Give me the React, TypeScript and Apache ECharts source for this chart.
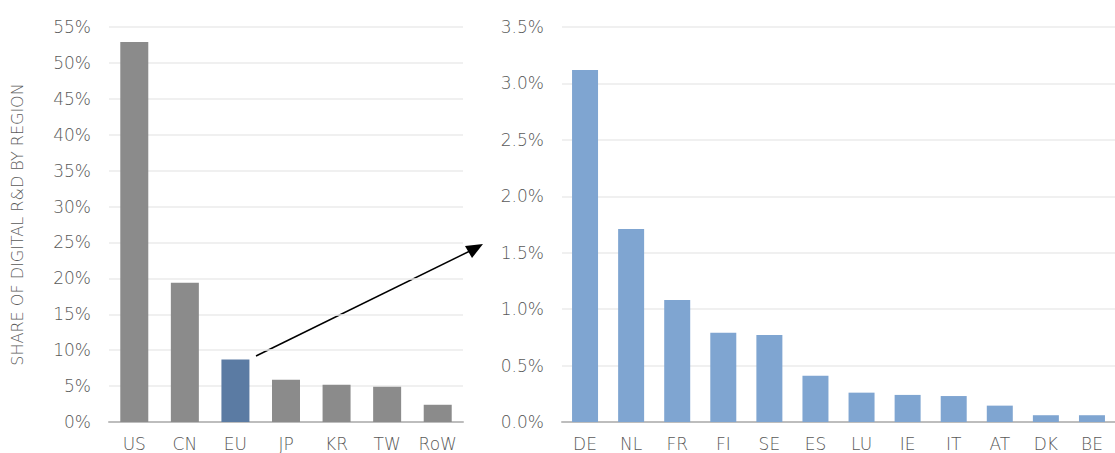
import React, { useEffect, useRef } from "react";
import * as echarts from "echarts";

// World regions: share of digital R&D
const regions = ["US", "CN", "EU", "JP", "KR", "TW", "RoW"];
const regionShare = [52.9, 19.4, 8.7, 5.9, 5.2, 4.9, 2.4];

// EU member states: share of digital R&D
const countries = ["DE", "NL", "FR", "FI", "SE", "ES", "LU", "IE", "IT", "AT", "DK", "BE"];
const countryShare = [3.12, 1.71, 1.08, 0.79, 0.77, 0.41, 0.26, 0.24, 0.23, 0.145, 0.06, 0.06];

const leftTicks = { min: 0, max: 55, interval: 5 };
const rightTicks = { min: 0, max: 3.5, interval: 0.5 };

const FONT = "DejaVu Sans";
const TEXT = "#595959";
const GREY_BAR = "#8b8b8b";
const EU_BAR = "#5b7ba3";
const EU_STATE_BAR = "#7fa5d1";

export default function App() {
  const ref = useRef<HTMLDivElement>(null);

  useEffect(() => {
    if (!ref.current) return;
    const chart = echarts.init(ref.current, undefined, { renderer: "svg" });

    const axisLabel = { color: TEXT, fontFamily: FONT, fontSize: 17, fontWeight: 300 };
    const splitLine = { show: true, lineStyle: { color: "#ebebeb", width: 1.5 } };
    const catAxisLine = { show: true, lineStyle: { color: "#bdbdbd", width: 2 } };

    chart.setOption({
      animation: false,
      grid: [
        { left: 109, top: 27, width: 354, bottom: 31 },
        { left: 562, top: 27, width: 562, bottom: 31 },
      ],
      xAxis: [
        {
          type: "category",
          gridIndex: 0,
          data: regions,
          axisLine: catAxisLine,
          axisTick: { show: false },
          axisLabel: { ...axisLabel, margin: 13 },
        },
        {
          type: "category",
          gridIndex: 1,
          data: countries,
          axisLine: catAxisLine,
          axisTick: { show: false },
          axisLabel: { ...axisLabel, margin: 13 },
        },
      ],
      yAxis: [
        {
          type: "value",
          gridIndex: 0,
          ...leftTicks,
          axisLine: { show: false },
          axisTick: { show: false },
          splitLine,
          axisLabel: { ...axisLabel, margin: 18, formatter: (v: number) => `${v}%` },
          name: "SHARE OF DIGITAL R&D BY REGION",
          nameLocation: "middle",
          nameGap: 84,
          nameTextStyle: { color: TEXT, fontFamily: FONT, fontSize: 16, fontWeight: 300 },
        },
        {
          type: "value",
          gridIndex: 1,
          ...rightTicks,
          axisLine: { show: false },
          axisTick: { show: false },
          splitLine,
          axisLabel: { ...axisLabel, margin: 18, formatter: (v: number) => `${v.toFixed(1)}%` },
        },
      ],
      series: [
        {
          type: "bar",
          xAxisIndex: 0,
          yAxisIndex: 0,
          barWidth: 28,
          data: regionShare.map((v, i) => ({
            value: v,
            itemStyle: { color: regions[i] === "EU" ? EU_BAR : GREY_BAR },
          })),
        },
        {
          type: "bar",
          xAxisIndex: 1,
          yAxisIndex: 1,
          barWidth: 26,
          itemStyle: { color: EU_STATE_BAR },
          data: countryShare,
        },
      ],
      graphic: [
        {
          type: "line",
          shape: { x1: 256, y1: 356, x2: 474, y2: 249 },
          style: { stroke: "#000", lineWidth: 1.5 },
        },
        {
          type: "polygon",
          shape: { points: [[483, 244], [465, 246], [472, 258]] },
          style: { fill: "#000" },
        },
      ],
    });

    return () => chart.dispose();
  }, []);

  return (
    <div
      ref={ref}
      style={{ position: "fixed", left: 0, top: 0, width: 1115, height: 453, background: "#fff" }}
    />
  );
}
